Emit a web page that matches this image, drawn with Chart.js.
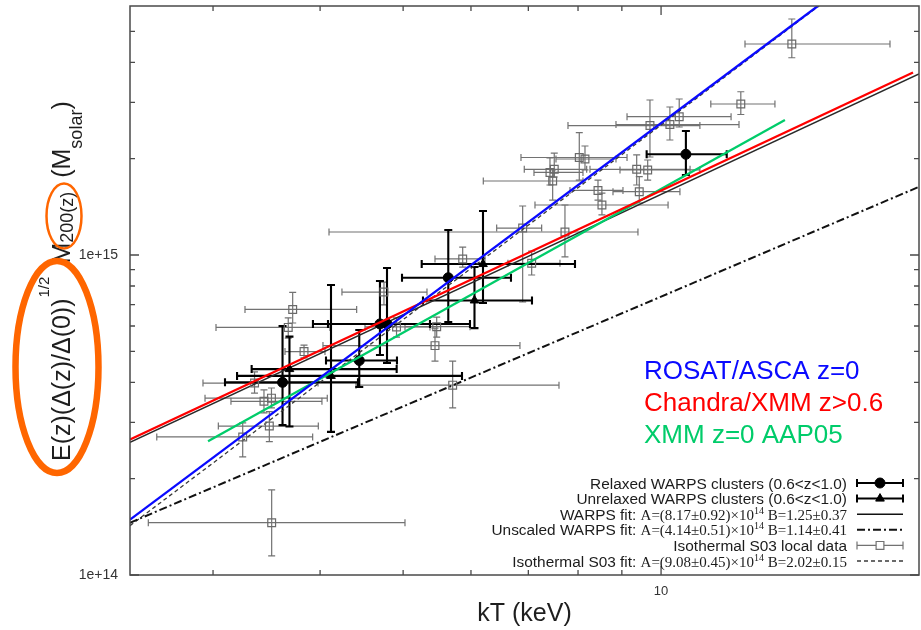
<!DOCTYPE html>
<html>
<head>
<meta charset="utf-8">
<title>Mass–temperature relation</title>
<script src="https://cdn.jsdelivr.net/npm/chart.js@4.4.1/dist/chart.umd.min.js"></script>
<style>
  html, body { margin: 0; padding: 0; background: #ffffff; }
  canvas { display: block; }
</style>
</head>
<body>
<canvas id="mt" width="921" height="630"></canvas>
<script>
// ---- axis ranges and ticks ----
const tempRange = [2.4, 20];          // kT (keV)
const massRange = [1e14, 6e15];       // M200 (solar masses)
const xTickValues = [10];
const xTickLabels = ['10'];
const xMinorTicks = [3, 4, 5, 6, 7, 8, 9];
const yTickValues = [1e14, 1e15];
const yTickLabels = ['1e+14', '1e+15'];
const yMinorTicks = [2e14, 3e14, 4e14, 5e14, 6e14, 7e14, 8e14, 9e14, 2e15, 3e15, 4e15, 5e15];

// ---- relaxed WARPS clusters (0.6<z<1.0) ----
const relaxedT    = [10.69, 5.645, 4.698, 4.788, 4.444, 3.616];
const relaxedTLow = [9.62, 4.985, 3.924, 4.086, 4.064, 3.098];
const relaxedTHigh= [11.93, 6.681, 5.374, 5.984, 4.918, 4.429];
const relaxedM    = [2.064e15, 8.49e14, 6.09e14, 6.09e14, 4.68e14, 4.00e14];
const relaxedMLow = [1.778e15, 6.17e14, 4.87e14, 4.60e14, 3.87e14, 2.94e14];
const relaxedMHigh= [2.441e15, 1.197e15, 8.29e14, 9.11e14, 5.83e14, 6.00e14];

// ---- unrelaxed WARPS clusters (0.6<z<1.0) ----
const unrelaxedT    = [6.197, 6.057, 3.684, 4.119];
const unrelaxedTLow = [5.256, 5.274, 3.328, 3.200];
const unrelaxedTHigh= [7.935, 7.069, 4.914, 5.857];
const unrelaxedM    = [9.37e14, 7.21e14, 4.40e14, 4.19e14];
const unrelaxedMLow = [7.08e14, 5.91e14, 2.91e14, 2.80e14];
const unrelaxedMHigh= [1.372e15, 9.17e14, 5.56e14, 8.06e14];

// ---- isothermal S03 local data ----
const s03T     = [14.21, 12.39, 10.50, 10.24, 9.706, 9.647, 9.366, 9.431, 8.531, 8.441, 8.151, 8.027, 7.505, 7.419, 7.473, 7.724, 6.894, 7.063, 5.868, 5.447, 5.472, 5.712, 4.912, 4.749, 3.716, 3.672, 3.831, 3.354, 3.440, 3.510, 3.490, 3.249, 3.512];
const s03TLow  = [12.53, 11.43, 9.126, 8.859, 7.787, 8.955, 8.261, 8.788, 7.126, 7.829, 7.540, 6.863, 6.924, 7.107, 6.202, 4.097, 6.429, 6.627, 5.447, 4.031, 5.025, 4.405, 4.513, 4.242, 3.269, 3.024, 3.640, 2.920, 3.148, 2.936, 3.043, 2.579, 2.521];
const s03THigh = [18.50, 13.58, 12.07, 12.33, 11.10, 11.10, 10.81, 10.52, 10.19, 9.027, 8.859, 9.126, 8.188, 8.107, 8.107, 9.398, 7.255, 7.621, 6.230, 6.844, 5.984, 7.601, 5.374, 5.331, 4.413, 4.108, 4.053, 3.978, 4.020, 4.078, 3.981, 3.921, 5.025];
const s03M     = [4.565e15, 2.964e15, 2.705e15, 2.557e15, 2.538e15, 1.844e15, 1.853e15, 1.577e15, 1.433e15, 1.591e15, 1.995e15, 2.017e15, 1.853e15, 1.811e15, 1.703e15, 1.180e15, 1.214e15, 9.42e14, 9.72e14, 5.21e14, 5.97e14, 3.92e14, 5.96e14, 7.66e14, 6.76e14, 5.94e14, 4.99e14, 3.98e14, 3.49e14, 3.57e14, 2.92e14, 2.70e14, 1.457e14];
const s03MLow  = [4.135e15, 2.748e15, 2.512e15, 2.288e15, 2.024e15, 1.715e15, 1.655e15, 1.454e15, 1.334e15, 1.485e15, 1.844e15, 1.715e15, 1.753e15, 1.655e15, 1.485e15, 9.86e14, 7.13e14, 8.66e14, 9.17e14, 4.66e14, 5.54e14, 3.33e14, 5.54e14, 6.98e14, 6.13e14, 5.50e14, 4.77e14, 3.70e14, 3.21e14, 3.33e14, 2.61e14, 2.34e14, 1.147e14];
const s03MHigh = [5.464e15, 3.237e15, 3.073e15, 2.901e15, 3.051e15, 1.981e15, 2.054e15, 1.757e15, 1.562e15, 1.715e15, 2.191e15, 2.411e15, 2.083e15, 2.010e15, 1.844e15, 1.433e15, 1.423e15, 1.029e15, 1.059e15, 5.91e14, 6.40e14, 4.66e14, 6.36e14, 8.23e14, 7.64e14, 6.36e14, 5.23e14, 4.31e14, 3.79e14, 3.84e14, 3.24e14, 2.99e14, 1.844e14];

// ---- power-law fits M = A (kT / 6 keV)^B ----
const fitPivot = 6;
const fitNames = ['WARPS fit: ', 'Unscaled WARPS fit: ', 'Isothermal S03 fit: '];
const fitA     = [8.17e14, 4.14e14, 9.08e14];
const fitAErr  = [0.92e14, 0.51e14, 0.45e14];
const fitB     = [1.25, 1.14, 2.02];
const fitBErr  = [0.37, 0.41, 0.15];

// ---- comparison relations (end points) ----
const rosatT   = [2.4, 15.24];
const rosatM   = [1.49e14, 6.0e15];
const chandraT = [2.4, 19.68];
const chandraM = [2.65e14, 3.72e15];
const xmmT     = [2.96, 13.95];
const xmmM     = [2.62e14, 2.64e15];
const relationLabels = ['ROSAT/ASCA z=0', 'Chandra/XMM z>0.6', 'XMM z=0 AAP05'];
const relationColors = ['#0a0aff', '#ff0000', '#00cc6a'];

// ---- helpers ----
const SANS = '"Liberation Sans", Arial, Helvetica, sans-serif';
const SERIF = '"Liberation Serif", "Times New Roman", serif';
const toPoints = (xs, ys) => xs.map((x, i) => ({ x: x, y: ys[i] }));
const fitLine = i => tempRange.map(t => ({ x: t, y: fitA[i] * Math.pow(t / fitPivot, fitB[i]) }));

function drawErrorBars(chart, T, TLo, THi, M, MLo, MHi, color, width, cap) {
  const { ctx, chartArea: a, scales: { x, y } } = chart;
  ctx.save();
  ctx.beginPath();
  ctx.rect(a.left, a.top, a.right - a.left, a.bottom - a.top);
  ctx.clip();
  ctx.strokeStyle = color;
  ctx.lineWidth = width;
  ctx.lineCap = 'butt';
  for (let i = 0; i < T.length; i++) {
    const px = x.getPixelForValue(T[i]);
    const py = y.getPixelForValue(M[i]);
    const xl = x.getPixelForValue(TLo[i]);
    const xh = x.getPixelForValue(THi[i]);
    const yl = y.getPixelForValue(MLo[i]);
    const yh = y.getPixelForValue(MHi[i]);
    ctx.beginPath();
    ctx.moveTo(xl, py); ctx.lineTo(xh, py);
    ctx.moveTo(px, yl); ctx.lineTo(px, yh);
    ctx.moveTo(xl, py - cap); ctx.lineTo(xl, py + cap);
    ctx.moveTo(xh, py - cap); ctx.lineTo(xh, py + cap);
    ctx.moveTo(px - cap, yl); ctx.lineTo(px + cap, yl);
    ctx.moveTo(px - cap, yh); ctx.lineTo(px + cap, yh);
    ctx.stroke();
  }
  ctx.restore();
}

function drawMarker(ctx, style, cx, cy, r, fill, stroke, lw) {
  ctx.save();
  ctx.beginPath();
  if (style === 'circle') {
    ctx.arc(cx, cy, r, 0, Math.PI * 2);
  } else if (style === 'triangle') {
    ctx.moveTo(cx, cy - r);
    ctx.lineTo(cx + 0.866 * r, cy + 0.5 * r);
    ctx.lineTo(cx - 0.866 * r, cy + 0.5 * r);
    ctx.closePath();
  } else {
    const s = Math.SQRT1_2 * r;
    ctx.rect(cx - s, cy - s, 2 * s, 2 * s);
  }
  if (fill) { ctx.fillStyle = fill; ctx.fill(); }
  ctx.strokeStyle = stroke; ctx.lineWidth = lw; ctx.stroke();
  ctx.restore();
}

// mixed-font text runs: [text, font, baselineShift]
function runsWidth(ctx, runs) {
  let w = 0;
  runs.forEach(r => { ctx.font = r[1]; w += ctx.measureText(r[0]).width; });
  return w;
}
function drawRuns(ctx, runs, x, y) {
  runs.forEach(r => {
    ctx.font = r[1];
    ctx.fillText(r[0], x, y + r[2]);
    x += ctx.measureText(r[0]).width;
  });
}

// keep the plot frame fixed: no extra room reserved for edge tick labels
function fixAxis(size, prop) {
  return s => {
    s[prop] = size;
    s.paddingTop = 0; s.paddingBottom = 0; s.paddingLeft = 0; s.paddingRight = 0;
  };
}

const decorations = {
  id: 'decorations',
  beforeDatasetsDraw(chart) {
    drawErrorBars(chart, s03T, s03TLow, s03THigh, s03M, s03MLow, s03MHigh, '#727272', 1.2, 3.5);
    drawErrorBars(chart, relaxedT, relaxedTLow, relaxedTHigh, relaxedM, relaxedMLow, relaxedMHigh, '#000000', 2.1, 4);
    drawErrorBars(chart, unrelaxedT, unrelaxedTLow, unrelaxedTHigh, unrelaxedM, unrelaxedMLow, unrelaxedMHigh, '#000000', 2.1, 4);
  },
  afterDraw(chart) {
    const { ctx, chartArea: a, scales: { x, y } } = chart;
    ctx.save();

    // frame and inward ticks on all four sides
    ctx.strokeStyle = '#4a4a4a';
    ctx.lineWidth = 1.5;
    ctx.strokeRect(a.left, a.top, a.right - a.left, a.bottom - a.top);
    ctx.lineWidth = 1.3;
    ctx.beginPath();
    const xTicks = xMinorTicks.map(v => [v, 5]).concat(xTickValues.map(v => [v, 9]));
    xTicks.forEach(([v, len]) => {
      const px = x.getPixelForValue(v);
      ctx.moveTo(px, a.bottom); ctx.lineTo(px, a.bottom - len);
      ctx.moveTo(px, a.top); ctx.lineTo(px, a.top + len);
    });
    const yTicks = yMinorTicks.map(v => [v, 5]).concat(yTickValues.map(v => [v, 9]));
    yTicks.forEach(([v, len]) => {
      const py = y.getPixelForValue(v);
      ctx.moveTo(a.left, py); ctx.lineTo(a.left + len, py);
      ctx.moveTo(a.right, py); ctx.lineTo(a.right - len, py);
    });
    ctx.stroke();

    // x-axis title
    ctx.fillStyle = '#1e1e1e';
    ctx.textAlign = 'center';
    ctx.textBaseline = 'alphabetic';
    ctx.font = '25px ' + SANS;
    ctx.fillText('kT (keV)', (a.left + a.right) / 2, 621);

    // y-axis title, rotated, read bottom to top
    ctx.save();
    ctx.rotate(-Math.PI / 2);
    ctx.textAlign = 'left';
    const base = 70;
    const pieces = [
      ['E(z)(\u0394(z)/\u0394(0))', '25px ' + SANS, 0, 1],
      ['1/2', '15px ' + SANS, -21, 13],
      ['M', '25px ' + SANS, 0, 0],
      ['200(z)', '18px ' + SANS, 3, 14],
      ['(M', '25px ' + SANS, 0, 0],
      ['solar', '18px ' + SANS, 12, 0],
      [')', '25px ' + SANS, 0, 0]
    ];
    let u = -461;
    pieces.forEach(p => {
      ctx.font = p[1];
      ctx.fillText(p[0], u, base + p[2]);
      u += ctx.measureText(p[0]).width + p[3];
    });
    ctx.restore();

    // highlight ellipses on the y-axis title
    ctx.strokeStyle = '#ff6600';
    ctx.lineWidth = 6.5;
    ctx.beginPath();
    ctx.ellipse(57, 367, 41.5, 106, 0, 0, Math.PI * 2);
    ctx.stroke();
    ctx.lineWidth = 2.5;
    ctx.beginPath();
    ctx.ellipse(64, 216, 17.5, 32.5, 0, 0, Math.PI * 2);
    ctx.stroke();

    // coloured relation labels
    ctx.textAlign = 'left';
    ctx.font = '26px ' + SANS;
    relationLabels.forEach((t, i) => {
      ctx.fillStyle = relationColors[i];
      ctx.fillText(t, 644, 379 + i * 32);
    });

    // key (bottom right)
    const textRight = 847, symL = 857, symR = 903, symC = 880;
    const rowY = i => 483 + i * 15.6;
    const sansF = '15.4px ' + SANS, serifF = '15px ' + SERIF, supF = '10px ' + SERIF;
    const fitRuns = i => [
      [fitNames[i], sansF, 0],
      ['A=(' + (fitA[i] / 1e14).toFixed(2) + '\u00b1' + (fitAErr[i] / 1e14).toFixed(2) + ')\u00d710', serifF, 0],
      ['14', supF, -6],
      [' B=' + fitB[i].toFixed(2) + '\u00b1' + fitBErr[i].toFixed(2), serifF, 0]
    ];
    const rows = [
      { runs: [['Relaxed WARPS clusters (0.6<z<1.0)', sansF, 0]], sym: 'circle' },
      { runs: [['Unrelaxed WARPS clusters (0.6<z<1.0)', sansF, 0]], sym: 'triangle' },
      { runs: fitRuns(0), sym: 'solid' },
      { runs: fitRuns(1), sym: 'dashdot' },
      { runs: [['Isothermal S03 local data', sansF, 0]], sym: 'rect' },
      { runs: fitRuns(2), sym: 'dashed' }
    ];
    rows.forEach((r, i) => {
      const cy = rowY(i);
      ctx.fillStyle = '#1c1c1c';
      ctx.textAlign = 'left';
      ctx.textBaseline = 'alphabetic';
      const w = runsWidth(ctx, r.runs);
      drawRuns(ctx, r.runs, textRight - w, cy + 5.5);
      ctx.save();
      if (r.sym === 'circle' || r.sym === 'triangle' || r.sym === 'rect') {
        const col = r.sym === 'rect' ? '#727272' : '#000000';
        ctx.strokeStyle = col;
        ctx.lineWidth = r.sym === 'rect' ? 1.2 : 2;
        ctx.beginPath();
        ctx.moveTo(symL, cy); ctx.lineTo(symR, cy);
        ctx.moveTo(symL, cy - 4); ctx.lineTo(symL, cy + 4);
        ctx.moveTo(symR, cy - 4); ctx.lineTo(symR, cy + 4);
        ctx.stroke();
        if (r.sym === 'rect') drawMarker(ctx, 'rect', symC, cy, 5.5, '#ffffff', col, 1.2);
        else drawMarker(ctx, r.sym, symC, cy, 5, '#000000', '#000000', 1);
      } else {
        ctx.strokeStyle = r.sym === 'dashed' ? '#3a3a3a' : '#111111';
        ctx.lineWidth = r.sym === 'dashdot' ? 2 : (r.sym === 'dashed' ? 1.3 : 1.5);
        ctx.setLineDash(r.sym === 'dashdot' ? [8, 3, 2, 3] : (r.sym === 'dashed' ? [4, 3] : []));
        ctx.beginPath();
        ctx.moveTo(symL, cy); ctx.lineTo(symR, cy);
        ctx.stroke();
      }
      ctx.restore();
    });

    ctx.restore();
  }
};

new Chart(document.getElementById('mt'), {
  type: 'scatter',
  data: {
    datasets: [
      { label: relationLabels[0], data: toPoints(rosatT, rosatM), showLine: true, borderColor: relationColors[0], borderWidth: 2.3, pointRadius: 0, order: 0 },
      { label: relationLabels[1], data: toPoints(chandraT, chandraM), showLine: true, borderColor: relationColors[1], borderWidth: 2.3, pointRadius: 0, order: 0 },
      { label: relationLabels[2], data: toPoints(xmmT, xmmM), showLine: true, borderColor: relationColors[2], borderWidth: 2.3, pointRadius: 0, order: 0 },
      { label: 'Relaxed WARPS clusters (0.6<z<1.0)', data: toPoints(relaxedT, relaxedM), pointStyle: 'circle', pointRadius: 5, backgroundColor: '#000000', borderColor: '#000000', borderWidth: 1, order: 1 },
      { label: 'Unrelaxed WARPS clusters (0.6<z<1.0)', data: toPoints(unrelaxedT, unrelaxedM), pointStyle: 'triangle', pointRadius: 5, backgroundColor: '#000000', borderColor: '#000000', borderWidth: 1, order: 1 },
      { label: 'Isothermal S03 local data', data: toPoints(s03T, s03M), pointStyle: 'rect', pointRadius: 5.5, backgroundColor: 'rgba(255,255,255,0)', borderColor: '#6a6a6a', borderWidth: 1.2, order: 1 },
      { label: fitNames[0], data: fitLine(0), showLine: true, borderColor: '#2a2a2a', borderWidth: 1.5, pointRadius: 0, order: 2 },
      { label: fitNames[1], data: fitLine(1), showLine: true, borderColor: '#111111', borderWidth: 2, borderDash: [8, 3, 2, 3], pointRadius: 0, order: 2 },
      { label: fitNames[2], data: fitLine(2), showLine: true, borderColor: '#3a3a3a', borderWidth: 1.3, borderDash: [4, 3], pointRadius: 0, order: 2 }
    ]
  },
  options: {
    responsive: false,
    animation: false,
    events: [],
    layout: { autoPadding: false, padding: { left: 0, right: 2, top: 6, bottom: 0 } },
    plugins: { legend: { display: false }, tooltip: { enabled: false } },
    scales: {
      x: {
        type: 'logarithmic', position: 'bottom', bounds: 'data',
        min: tempRange[0], max: tempRange[1],
        grid: { display: false, drawTicks: false },
        border: { display: false },
        afterFit: fixAxis(55, 'height'),
        afterBuildTicks(s) { s.ticks = xTickValues.map(v => ({ value: v })); },
        ticks: {
          autoSkip: false, maxRotation: 0, padding: 9, color: '#333333',
          font: { family: SANS, size: 13 },
          callback: v => { const i = xTickValues.indexOf(v); return i >= 0 ? xTickLabels[i] : ''; }
        }
      },
      y: {
        type: 'logarithmic', position: 'left', bounds: 'data',
        min: massRange[0], max: massRange[1],
        grid: { display: false, drawTicks: false },
        border: { display: false },
        afterFit: fixAxis(130, 'width'),
        afterBuildTicks(s) { s.ticks = yTickValues.map(v => ({ value: v })); },
        ticks: {
          autoSkip: false, padding: 12, color: '#333333',
          font: { family: SANS, size: 14 },
          callback: v => { const i = yTickValues.indexOf(v); return i >= 0 ? yTickLabels[i] : ''; }
        }
      }
    }
  },
  plugins: [decorations]
});
</script>
</body>
</html>
